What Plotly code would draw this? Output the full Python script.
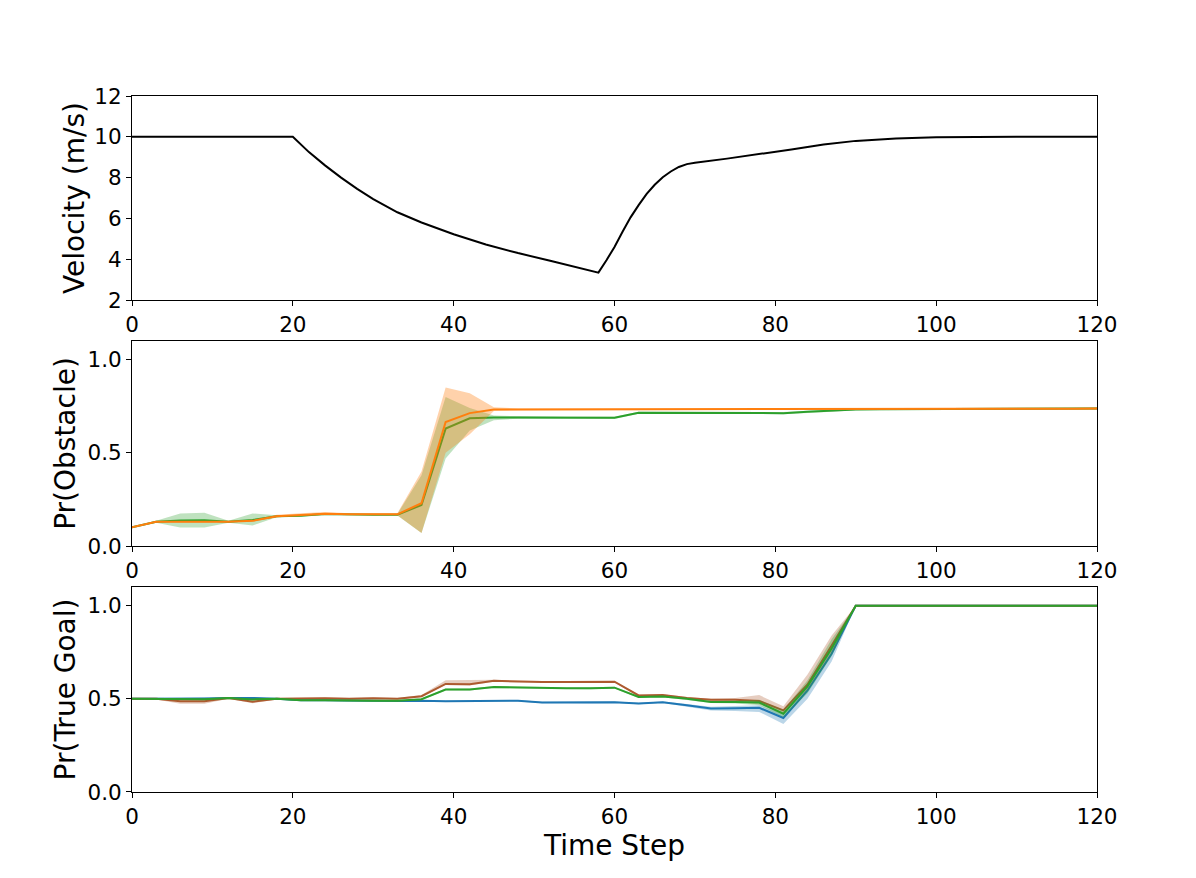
import plotly.graph_objects as go
from plotly.subplots import make_subplots

# velocity profile (time step, m/s)
vel_t = [0, 20, 22, 24, 26, 28, 30, 33, 36, 40, 44, 48, 52, 56, 58,
         59, 60, 61, 62, 63, 64, 65, 66, 67, 68, 69, 70,
         74, 78, 82, 86, 90, 95, 100, 110, 120]
vel = [10.0, 10.0, 9.25, 8.6, 8.0, 7.45, 6.95, 6.3, 5.8, 5.22, 4.72, 4.3, 3.92, 3.55, 3.34,
       3.95, 4.6, 5.35, 6.05, 6.65, 7.2, 7.65, 8.02, 8.3, 8.52, 8.66, 8.73,
       8.93, 9.14, 9.38, 9.62, 9.8, 9.92, 9.98, 10.0, 10.0]

# belief samples every 3 steps
steps = list(range(0, 121, 3))

obs_green = [0.10, 0.13, 0.137, 0.138, 0.13, 0.14, 0.16, 0.163, 0.172, 0.168, 0.168, 0.168,
             0.22, 0.63, 0.685, 0.69, 0.69, 0.688, 0.688, 0.688, 0.688, 0.715, 0.715, 0.714,
             0.714, 0.714, 0.714, 0.713, 0.72, 0.727, 0.733, 0.734, 0.734, 0.735, 0.735, 0.735,
             0.736, 0.736, 0.737, 0.737, 0.738]
obs_green_lo = [0.10, 0.125, 0.10, 0.10, 0.125, 0.11, 0.155, 0.158, 0.167, 0.164, 0.164, 0.164,
                0.07, 0.47, 0.62, 0.675, 0.683, 0.682, 0.682, 0.682, 0.682, 0.709, 0.709, 0.708,
                0.708, 0.708, 0.708, 0.707, 0.714, 0.721, 0.728, 0.729, 0.729, 0.73, 0.73, 0.73,
                0.731, 0.731, 0.732, 0.732, 0.733]
obs_green_hi = [0.10, 0.135, 0.175, 0.178, 0.135, 0.175, 0.165, 0.168, 0.177, 0.172, 0.172, 0.172,
                0.38, 0.80, 0.74, 0.70, 0.697, 0.694, 0.694, 0.694, 0.694, 0.72, 0.72, 0.72,
                0.72, 0.72, 0.72, 0.719, 0.726, 0.732, 0.738, 0.739, 0.739, 0.74, 0.74, 0.74,
                0.741, 0.741, 0.742, 0.742, 0.743]

obs_orange = [0.10, 0.13, 0.13, 0.13, 0.13, 0.135, 0.16, 0.167, 0.173, 0.17, 0.17, 0.17,
              0.23, 0.665, 0.713, 0.733, 0.733, 0.733, 0.733, 0.733, 0.733, 0.733, 0.733, 0.733,
              0.733, 0.733, 0.733, 0.733, 0.733, 0.733, 0.734, 0.734, 0.734, 0.735, 0.735, 0.735,
              0.736, 0.736, 0.737, 0.737, 0.738]
obs_orange_lo = [0.10, 0.126, 0.126, 0.126, 0.126, 0.13, 0.155, 0.16, 0.166, 0.165, 0.165, 0.165,
                 0.07, 0.50, 0.60, 0.725, 0.728, 0.728, 0.728, 0.728, 0.728, 0.728, 0.728, 0.728,
                 0.728, 0.728, 0.728, 0.728, 0.728, 0.728, 0.729, 0.729, 0.729, 0.73, 0.73, 0.73,
                 0.731, 0.731, 0.732, 0.732, 0.733]
obs_orange_hi = [0.10, 0.134, 0.134, 0.134, 0.134, 0.14, 0.168, 0.176, 0.182, 0.176, 0.176, 0.176,
                 0.40, 0.85, 0.82, 0.745, 0.738, 0.738, 0.738, 0.738, 0.738, 0.738, 0.738, 0.738,
                 0.738, 0.738, 0.738, 0.738, 0.738, 0.738, 0.739, 0.739, 0.739, 0.74, 0.74, 0.74,
                 0.741, 0.741, 0.742, 0.742, 0.743]

goal_blue = [0.5, 0.5, 0.502, 0.502, 0.505, 0.505, 0.5, 0.493, 0.493, 0.49, 0.49, 0.488,
             0.49, 0.487, 0.487, 0.49, 0.49, 0.48, 0.482, 0.48, 0.482, 0.475, 0.482, 0.465,
             0.448, 0.45, 0.452, 0.397, 0.545, 0.742, 1.0, 1.0, 1.0, 1.0, 1.0, 1.0,
             1.0, 1.0, 1.0, 1.0, 1.0]
goal_blue_lo = [0.5, 0.497, 0.498, 0.498, 0.501, 0.501, 0.496, 0.489, 0.489, 0.486, 0.486, 0.484,
                0.486, 0.483, 0.483, 0.486, 0.486, 0.476, 0.478, 0.476, 0.478, 0.471, 0.478, 0.458,
                0.438, 0.435, 0.43, 0.365, 0.50, 0.70, 1.0, 1.0, 1.0, 1.0, 1.0, 1.0,
                1.0, 1.0, 1.0, 1.0, 1.0]
goal_blue_hi = [0.5, 0.503, 0.506, 0.506, 0.509, 0.509, 0.504, 0.497, 0.497, 0.494, 0.494, 0.492,
                0.494, 0.491, 0.491, 0.494, 0.494, 0.484, 0.486, 0.484, 0.486, 0.479, 0.486, 0.472,
                0.458, 0.462, 0.465, 0.42, 0.58, 0.77, 1.0, 1.0, 1.0, 1.0, 1.0, 1.0,
                1.0, 1.0, 1.0, 1.0, 1.0]

goal_brown = [0.5, 0.5, 0.487, 0.487, 0.505, 0.485, 0.5, 0.502, 0.503, 0.5, 0.503, 0.5,
              0.514, 0.58, 0.578, 0.597, 0.593, 0.59, 0.59, 0.59, 0.592, 0.518, 0.52, 0.505,
              0.495, 0.495, 0.488, 0.438, 0.577, 0.786, 1.0, 1.0, 1.0, 1.0, 1.0, 1.0,
              1.0, 1.0, 1.0, 1.0, 1.0]
goal_brown_lo = [0.5, 0.496, 0.474, 0.474, 0.501, 0.476, 0.496, 0.498, 0.499, 0.496, 0.499, 0.496,
                 0.508, 0.574, 0.572, 0.592, 0.589, 0.586, 0.586, 0.586, 0.588, 0.513, 0.515, 0.5,
                 0.489, 0.485, 0.47, 0.42, 0.55, 0.75, 1.0, 1.0, 1.0, 1.0, 1.0, 1.0,
                 1.0, 1.0, 1.0, 1.0, 1.0]
goal_brown_hi = [0.5, 0.504, 0.494, 0.494, 0.509, 0.492, 0.504, 0.506, 0.507, 0.504, 0.507, 0.504,
                 0.52, 0.60, 0.60, 0.602, 0.597, 0.594, 0.594, 0.594, 0.596, 0.523, 0.525, 0.51,
                 0.501, 0.505, 0.52, 0.46, 0.63, 0.84, 1.0, 1.0, 1.0, 1.0, 1.0, 1.0,
                 1.0, 1.0, 1.0, 1.0, 1.0]

goal_green = [0.5, 0.5, 0.498, 0.498, 0.505, 0.497, 0.5, 0.493, 0.493, 0.49, 0.49, 0.49,
              0.498, 0.55, 0.55, 0.563, 0.56, 0.557, 0.557, 0.557, 0.56, 0.51, 0.513, 0.5,
              0.483, 0.483, 0.48, 0.42, 0.567, 0.77, 1.0, 1.0, 1.0, 1.0, 1.0, 1.0,
              1.0, 1.0, 1.0, 1.0, 1.0]
goal_green_lo = [0.5, 0.497, 0.494, 0.494, 0.501, 0.493, 0.496, 0.489, 0.489, 0.486, 0.486, 0.486,
                 0.494, 0.545, 0.545, 0.558, 0.555, 0.552, 0.552, 0.552, 0.555, 0.505, 0.508, 0.494,
                 0.477, 0.475, 0.465, 0.40, 0.53, 0.73, 1.0, 1.0, 1.0, 1.0, 1.0, 1.0,
                 1.0, 1.0, 1.0, 1.0, 1.0]
goal_green_hi = [0.5, 0.503, 0.502, 0.502, 0.509, 0.501, 0.504, 0.497, 0.497, 0.494, 0.494, 0.494,
                 0.502, 0.555, 0.555, 0.568, 0.565, 0.562, 0.562, 0.562, 0.565, 0.515, 0.518, 0.506,
                 0.489, 0.491, 0.495, 0.44, 0.60, 0.82, 1.0, 1.0, 1.0, 1.0, 1.0, 1.0,
                 1.0, 1.0, 1.0, 1.0, 1.0]

FONT = "DejaVu Sans"

fig = make_subplots(rows=3, cols=1)


def add_band(row, lo, hi, mean, line_color, fill_color):
    # shaded spread as a closed polygon, then the mean line on top
    fig.add_trace(go.Scatter(
        x=steps + steps[::-1], y=hi + lo[::-1],
        fill='toself', fillcolor=fill_color, line=dict(width=0),
        mode='lines', hoverinfo='skip', showlegend=False
    ), row=row, col=1)
    fig.add_trace(go.Scatter(
        x=steps, y=mean, mode='lines',
        line=dict(color=line_color, width=2), showlegend=False
    ), row=row, col=1)


fig.add_trace(go.Scatter(
    x=vel_t, y=vel, mode='lines', line=dict(color='black', width=2),
    showlegend=False
), row=1, col=1)

add_band(2, obs_green_lo, obs_green_hi, obs_green, '#2ca02c', 'rgba(44,160,44,0.3)')
add_band(2, obs_orange_lo, obs_orange_hi, obs_orange, '#ff7f0e', 'rgba(255,127,14,0.35)')

add_band(3, goal_blue_lo, goal_blue_hi, goal_blue, '#1f77b4', 'rgba(31,119,180,0.3)')
add_band(3, goal_brown_lo, goal_brown_hi, goal_brown, '#ad5a2f', 'rgba(173,90,47,0.3)')
add_band(3, goal_green_lo, goal_green_hi, goal_green, '#2ca02c', 'rgba(44,160,44,0.3)')

axis_style = dict(
    showline=True, linecolor='black', linewidth=1, mirror=True,
    ticks='outside', ticklen=5, tickcolor='black', tickwidth=1,
    showgrid=False, zeroline=False,
    tickfont=dict(family=FONT, size=21.5, color='black'),
)

domains = [[0.7069, 1.0], [0.3534, 0.648], [0.0, 0.2945]]
for i in range(3):
    fig.update_xaxes(axis_style, range=[0, 120], tickvals=[0, 20, 40, 60, 80, 100, 120],
                     row=i + 1, col=1)
    fig.update_yaxes(axis_style, domain=domains[i], row=i + 1, col=1)

fig.update_yaxes(range=[2, 12], tickvals=[2, 4, 6, 8, 10, 12],
                 title=dict(text='Velocity (m/s)', font=dict(family=FONT, size=28), standoff=1),
                 row=1, col=1)
fig.update_yaxes(range=[0, 1.1], tickvals=[0, 0.5, 1.0], ticktext=['0.0', '0.5', '1.0'],
                 title=dict(text='Pr(Obstacle)', font=dict(family=FONT, size=28), standoff=3),
                 row=2, col=1)
fig.update_yaxes(range=[0, 1.1], tickvals=[0, 0.5, 1.0], ticktext=['0.0', '0.5', '1.0'],
                 title=dict(text='Pr(True Goal)', font=dict(family=FONT, size=28), standoff=3),
                 row=3, col=1)
fig.update_xaxes(title=dict(text='Time Step', font=dict(family=FONT, size=28), standoff=4),
                 row=3, col=1)

fig.update_layout(
    width=1196, height=878,
    margin=dict(l=124, r=107, t=88, b=94),
    plot_bgcolor='white', paper_bgcolor='white',
    font=dict(family=FONT, color='black'),
)

fig.write_html("out.html")
